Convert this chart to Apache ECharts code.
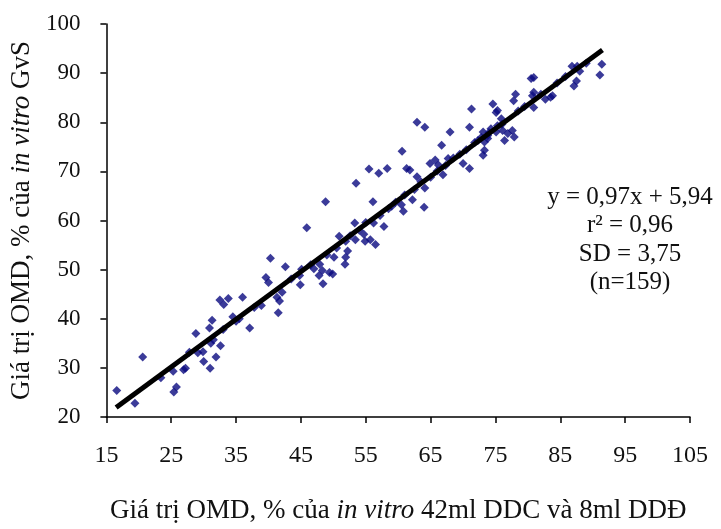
<!DOCTYPE html>
<html>
<head>
<meta charset="utf-8">
<script src="https://cdn.jsdelivr.net/npm/echarts@6/dist/echarts.min.js"></script>
<style>
  html, body { margin: 0; padding: 0; background: #fff; }
  #chart { width: 721px; height: 529px; }
</style>
</head>
<body>
<div id="chart"></div>
<script>
// OMD in vitro 42ml DDC + 8ml DDĐ (x) vs OMD in vitro GvS (y)
var xVals = [
  16.6, 19.4, 20.6, 25.4, 25.8, 25.3, 26.9, 27.2, 28.8, 29.1, 29.9, 30.0, 31.0, 30.9, 31.3, 31.1, 31.5, 31.9, 32.6, 32.5,
  33.1, 33.8, 34.5, 35.5, 36.0, 37.1, 38.9, 39.6, 40.0, 40.3, 41.3, 41.7, 42.1, 41.5, 42.6, 44.8, 44.9, 45.1, 45.9,
  48.8, 47.9, 48.3, 47.8, 48.4, 49.4, 49.9, 50.1, 51.9, 52.2, 51.8, 50.9, 51.9, 53.3, 53.5, 53.4, 54.7, 54.9, 55.7, 56.5,
  56.2, 56.1, 55.5, 57.0, 57.8, 58.3, 59.0, 60.5, 60.8, 60.6, 61.3, 61.8, 62.2, 62.9, 64.0, 64.1, 62.9, 64.1, 64.9, 65.7,
  66.2, 66.7, 66.9, 68.0, 67.7, 70.0, 71.0, 71.0, 71.3, 72.3, 73.1, 73.3, 73.1, 73.8, 74.6, 75.1, 75.3,
  91.4, 91.1, 87.6, 86.8, 88.0, 87.5, 87.1, 80.5, 80.9, 80.7, 80.9, 80.9, 82.7, 83.5, 83.8, 78.1, 77.8, 75.3, 75.9, 76.1,
  76.9, 77.6, 77.9, 76.4, 73.8, 73.3, 74.3, 75.1,
  23.4, 27.8, 33.0, 35.0, 37.8, 43.5, 46.5, 47.0, 49.0, 50.5, 52.6, 54.0, 55.0, 57.2, 58.5, 59.6, 61.0, 62.5, 63.5, 65.0,
  66.0, 67.3, 68.5, 69.5, 70.5, 71.8, 72.8, 74.0, 76.0, 78.5, 79.5, 82.0, 84.5, 85.8, 89.0
];
var yVals = [
  25.4, 22.8, 32.2, 25.1, 26.1, 29.3, 29.6, 29.9, 37.0, 33.1, 33.3, 31.3, 29.9, 38.1, 39.7, 35.0, 35.7, 32.2, 34.5, 43.8,
  42.9, 44.1, 40.4, 40.0, 44.4, 38.1, 42.7, 48.4, 47.4, 52.3, 44.4, 43.6, 45.4, 41.2, 50.6, 48.8, 46.9, 50.1, 58.5,
  63.8, 51.1, 49.8, 48.8, 47.1, 49.4, 49.1, 52.5, 52.5, 53.8, 51.1, 56.8, 55.8, 59.5, 67.6, 56.1, 57.2, 55.8, 56.1, 55.1,
  59.5, 63.8, 70.5, 69.6, 58.8, 70.6, 62.9, 63.2, 61.9, 74.1, 70.6, 70.3, 64.2, 68.9, 62.7, 66.6, 80.0, 79.0, 71.6, 72.3,
  71.3, 75.3, 69.3, 78.0, 72.6, 71.6, 70.6, 79.0, 82.7, 76.3, 78.0, 74.3, 73.3, 76.7, 83.7, 82.0, 79.3,
  91.8, 89.6, 91.4, 91.4, 90.4, 88.4, 87.4, 88.9, 89.1, 85.4, 86.1, 83.0, 84.7, 85.1, 85.4, 85.7, 84.4, 82.4, 80.7, 78.3,
  77.7, 78.3, 77.0, 76.3, 77.3, 76.0, 78.7, 78.0,
  28.0, 33.2, 37.8, 39.5, 42.3, 48.1, 51.0, 50.2, 53.0, 54.4, 56.9, 58.0, 59.6, 61.0, 62.4, 63.7, 65.2, 66.3, 67.9, 68.8,
  70.1, 71.2, 72.7, 73.5, 74.4, 75.9, 76.9, 77.9, 79.6, 82.3, 83.2, 85.7, 88.0, 89.3, 92.0
];

// regression y = 0,97x + 5,94
var slope = 0.97;
var intercept = 5.94;
var lineX = [16.5, 91.5];

var xTicks = [15, 105, 10];
var yTicks = [20, 100, 10];

var statLines = ['y = 0,97x + 5,94', 'r\u00b2 = 0,96', 'SD = 3,75', '(n=159)'];

var points = xVals.map(function (x, i) { return [x, yVals[i]]; });
var linePts = lineX.map(function (x) { return [x, slope * x + intercept]; });

var serif = '"Liberation Serif", "Times New Roman", serif';
var chart = echarts.init(document.getElementById('chart'));

chart.setOption({
  backgroundColor: '#fff',
  animation: false,
  textStyle: { fontFamily: serif },
  grid: { left: 102, right: 31, top: 24, bottom: 108, containLabel: false },
  xAxis: {
    type: 'value',
    min: xTicks[0], max: xTicks[1], interval: xTicks[2],
    name: 'Giá trị OMD, % của {i|in vitro} 42ml DDC và 8ml DDĐ',
    nameLocation: 'middle',
    nameGap: 80,
    nameTextStyle: {
      fontFamily: serif, fontSize: 27, color: '#111',
      rich: { i: { fontFamily: serif, fontSize: 27, fontStyle: 'italic', color: '#111' } }
    },
    axisLine: { lineStyle: { color: '#000', width: 1.5 } },
    axisTick: { show: true, inside: false, length: 6, lineStyle: { color: '#000', width: 1.5 } },
    axisLabel: { fontFamily: serif, fontSize: 24, color: '#111', margin: 27 },
    splitLine: { show: false }
  },
  yAxis: {
    type: 'value',
    min: yTicks[0], max: yTicks[1], interval: yTicks[2],
    name: 'Giá trị OMD, % của {i|in vitro} GvS',
    nameLocation: 'middle',
    nameGap: 67,
    nameTextStyle: {
      fontFamily: serif, fontSize: 27, color: '#111',
      rich: { i: { fontFamily: serif, fontSize: 27, fontStyle: 'italic', color: '#111' } }
    },
    axisLine: { show: true, lineStyle: { color: '#000', width: 1.5 } },
    axisTick: { show: true, inside: false, length: 6, lineStyle: { color: '#000', width: 1.5 } },
    axisLabel: { fontFamily: serif, fontSize: 23, color: '#111', margin: 26 },
    splitLine: { show: false }
  },
  series: [
    {
      type: 'scatter',
      data: points,
      symbol: 'diamond',
      symbolSize: 9,
      itemStyle: { color: '#0a0a80' },
      z: 2
    },
    {
      type: 'line',
      data: linePts,
      symbol: 'none',
      lineStyle: { color: '#000', width: 5 },
      z: 3
    }
  ],
  graphic: [
    {
      type: 'text',
      x: 630,
      y: 183,
      style: {
        text: statLines.join('\n'),
        align: 'center',
        verticalAlign: 'top',
        lineHeight: 28.5,
        font: '25px ' + serif,
        fill: '#111'
      }
    }
  ]
});
</script>
</body>
</html>
